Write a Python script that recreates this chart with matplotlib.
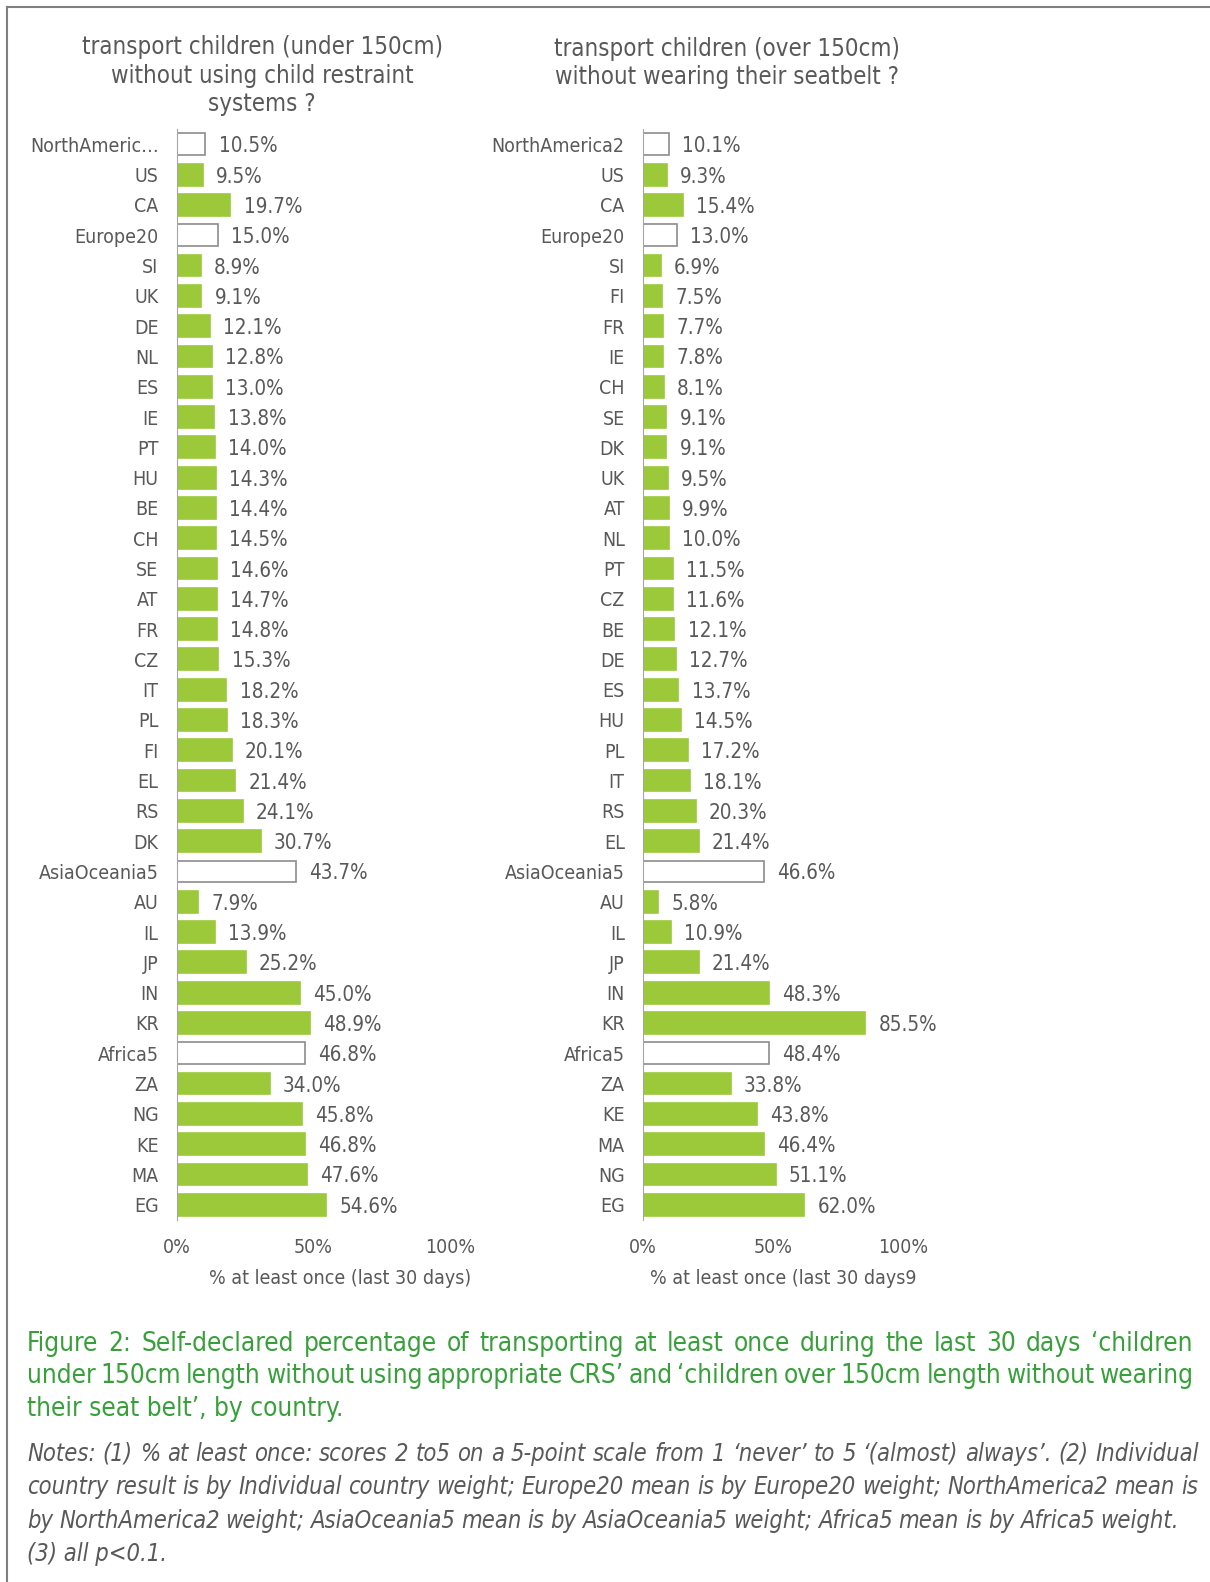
import numpy as np
import matplotlib.pyplot as plt
from matplotlib.lines import Line2D

plt.rcParams['font.family'] = 'DejaVu Sans'
plt.rcParams['font.stretch'] = 'condensed'

# --- data ---
left_labels = ["NorthAmeric…", "US", "CA", "Europe20", "SI", "UK", "DE", "NL", "ES", "IE",
               "PT", "HU", "BE", "CH", "SE", "AT", "FR", "CZ", "IT", "PL", "FI", "EL",
               "RS", "DK", "AsiaOceania5", "AU", "IL", "JP", "IN", "KR", "Africa5",
               "ZA", "NG", "KE", "MA", "EG"]
left_values = [10.5, 9.5, 19.7, 15.0, 8.9, 9.1, 12.1, 12.8, 13.0, 13.8,
               14.0, 14.3, 14.4, 14.5, 14.6, 14.7, 14.8, 15.3, 18.2, 18.3, 20.1, 21.4,
               24.1, 30.7, 43.7, 7.9, 13.9, 25.2, 45.0, 48.9, 46.8,
               34.0, 45.8, 46.8, 47.6, 54.6]

right_labels = ["NorthAmerica2", "US", "CA", "Europe20", "SI", "FI", "FR", "IE", "CH", "SE",
                "DK", "UK", "AT", "NL", "PT", "CZ", "BE", "DE", "ES", "HU", "PL", "IT",
                "RS", "EL", "AsiaOceania5", "AU", "IL", "JP", "IN", "KR", "Africa5",
                "ZA", "KE", "MA", "NG", "EG"]
right_values = [10.1, 9.3, 15.4, 13.0, 6.9, 7.5, 7.7, 7.8, 8.1, 9.1,
                9.1, 9.5, 9.9, 10.0, 11.5, 11.6, 12.1, 12.7, 13.7, 14.5, 17.2, 18.1,
                20.3, 21.4, 46.6, 5.8, 10.9, 21.4, 48.3, 85.5, 48.4,
                33.8, 43.8, 46.4, 51.1, 62.0]

regions = ["NorthAmeric…", "NorthAmerica2", "Europe20", "AsiaOceania5", "Africa5"]

left_title = "transport children (under 150cm)\nwithout using child restraint\nsystems ?"
right_title = "transport children (over 150cm)\nwithout wearing their seatbelt ?"
left_xlabel = "% at least once (last 30 days)"
right_xlabel = "% at least once (last 30 days9"

caption = ["Figure 2: Self-declared percentage of transporting at least once during the last 30 days \u2018children",
           "under 150cm length without using appropriate CRS\u2019 and \u2018children over 150cm length without wearing",
           "their seat belt\u2019, by country."]
notes = ["Notes: (1) % at least once: scores 2 to5 on a 5-point scale from 1 \u2018never\u2019 to 5 \u2018(almost) always\u2019. (2) Individual",
         "country result is by Individual country weight; Europe20 mean is by Europe20 weight; NorthAmerica2 mean is",
         "by NorthAmerica2 weight; AsiaOceania5 mean is by AsiaOceania5 weight; Africa5 mean is by Africa5 weight.",
         "(3) all p<0.1."]

GREEN = "#9BC93A"
EDGE = "#8C8C8C"
TEXT = "#595959"
CAP_GREEN = "#38A03A"

W, H = 1210, 1582
fig = plt.figure(figsize=(W / 100, H / 100), dpi=100)


def px(x, y):
    return x / W, 1 - y / H


def panel(x0, width, labels, values, xlabel, xlabel_x):
    top, bottom = 129.2, 1219.9
    ax = fig.add_axes([x0 / W, 1 - bottom / H, width / W, (bottom - top) / H])
    y = np.arange(len(labels))
    hollow = [l in regions for l in labels]
    ax.barh(y, values, height=0.72,
            color=["white" if h else GREEN for h in hollow],
            edgecolor=[EDGE if h else GREEN for h in hollow], linewidth=1.2)
    for yi, v in zip(y, values):
        ax.annotate(f"{v:.1f}%", (v, yi), xytext=(9.5, 0), textcoords="offset points",
                    ha="left", va="center_baseline", fontsize=14.8, color=TEXT)
    ax.set_xlim(0, 100)
    ax.set_ylim(len(labels) - 0.5, -0.5)
    ax.set_yticks(y)
    ax.set_yticklabels(labels)
    ax.set_xticks([0, 50, 100])
    ax.set_xticklabels(["0%", "50%", "100%"])
    for s in ["top", "right", "bottom"]:
        ax.spines[s].set_visible(False)
    ax.spines["left"].set_color("#A6A6A6")
    ax.tick_params(axis="y", length=0, pad=13, labelsize=14, labelcolor=TEXT)
    ax.tick_params(axis="x", length=0, pad=13, labelsize=14, labelcolor=TEXT)
    ax.text(xlabel_x, -(1279 - bottom) / (bottom - top), xlabel, transform=ax.transAxes,
            ha="center", va="center", fontsize=14, color=TEXT)
    return ax


panel(176.6, 273.5, left_labels, left_values, left_xlabel, 0.597)
panel(642.8, 260.4, right_labels, right_values, right_xlabel, 0.538)

fig.text(*px(262, 75.5), left_title, ha="center", va="center", fontsize=17.2,
         color=TEXT, linespacing=1.26)
fig.text(*px(726.6, 63), right_title, ha="center", va="center", fontsize=17.2,
         color=TEXT, linespacing=1.26)

# border of the chart box
fig.add_artist(Line2D([7 / W, 1], [1 - 7 / H, 1 - 7 / H], color="#808080", lw=1.5))
fig.add_artist(Line2D([7 / W, 7 / W], [0, 1 - 7 / H], color="#808080", lw=1.5))

renderer = fig.canvas.get_renderer()


def justified(line, y, x0, x1, **kw):
    words = line.split(" ")
    objs = [fig.text(0, 1 - y / H, w, va="center", ha="left", **kw) for w in words]
    widths = [o.get_window_extent(renderer).width for o in objs]
    gap = (x1 - x0 - sum(widths)) / (len(words) - 1)
    x = x0
    for o, w in zip(objs, widths):
        o.set_x(x / W)
        x += w + gap


cap_y = [1344, 1376, 1409]
for i, line in enumerate(caption):
    if i < 2:
        justified(line, cap_y[i], 27, 1193, fontsize=18.8, color=CAP_GREEN)
    else:
        fig.text(*px(27, cap_y[i]), line, ha="left", va="center", fontsize=18.8, color=CAP_GREEN)

note_y = [1454, 1487, 1521, 1554]
note_x1 = [1199, 1198, 1179]
for i, line in enumerate(notes):
    if i < 3:
        justified(line, note_y[i], 27, note_x1[i], fontsize=17, color=TEXT, style="italic")
    else:
        fig.text(*px(27, note_y[i]), line, ha="left", va="center", fontsize=17,
                 color=TEXT, style="italic")

fig.savefig("out.png", dpi=100)
